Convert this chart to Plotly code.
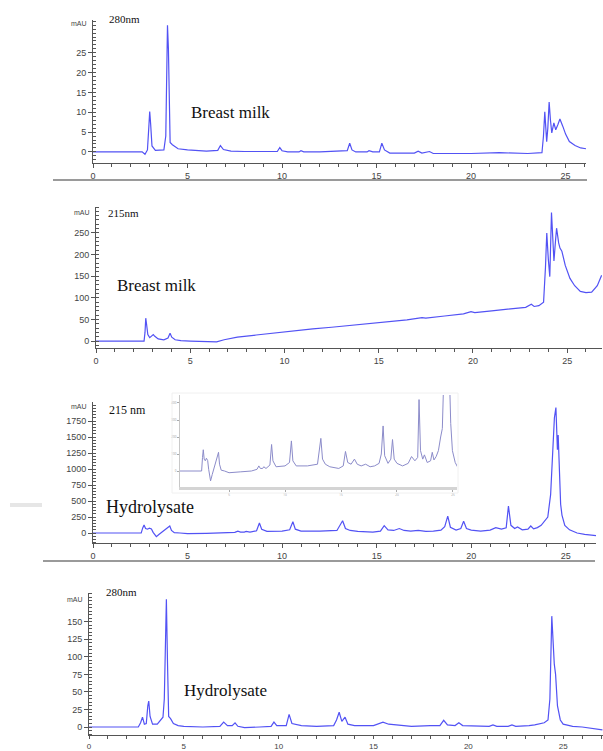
import plotly.graph_objects as go

# ---------------- data (retention time [min], absorbance [mAU]) ----------------
bm280 = [(0,0),(2.6,0),(2.75,-0.6),(2.88,0.5),(2.95,6),(3.0,10.2),(3.05,7),(3.12,1.5),(3.3,0.4),(3.75,0.5),
         (3.85,4),(3.94,32),(3.99,26),(4.04,6),(4.08,2.4),(4.2,1.8),(4.5,0.8),(5.0,0.5),(6.0,0.2),(6.6,0.4),
         (6.74,1.6),(6.9,0.6),(7.3,0.2),(8.0,0.1),(9.0,0),(9.75,0.1),(9.88,1.1),(10.0,0.3),(10.3,0),(10.9,0),
         (11.0,0.3),(11.15,0),(12.0,0),(13.0,0.3),(13.45,0.3),(13.58,2.2),(13.7,0.5),(13.9,0),(14.5,0),(14.6,0.3),
         (14.8,0),(15.15,0),(15.28,2.2),(15.42,0.5),(15.7,-0.3),(17.0,-0.3),(17.2,0.2),(17.4,-0.3),(17.8,0.1),
         (18.0,-0.4),(20.0,-0.4),(21.5,-0.2),(22.0,-0.3),(23.0,-0.4),(23.75,-0.2),(23.83,4),(23.9,10.1),(23.95,6),
         (24.0,2.6),(24.06,6),(24.13,12.6),(24.2,8),(24.27,4.8),(24.38,7.3),(24.48,5.6),(24.6,7),(24.7,8.3),
         (24.85,6.5),(25.0,4.5),(25.2,2.6),(25.5,1.6),(25.8,1.0),(26.08,0.8)]

bm215 = [(0,0),(2.55,0),(2.6,20),(2.64,53),(2.68,40),(2.75,15),(2.85,8),(2.95,13),(3.04,15),(3.12,11),(3.3,5),
         (3.6,3),(3.82,7),(3.93,18),(4.02,9),(4.2,3),(4.5,1),(5.0,0),(6.0,-1),(6.4,-2),(6.8,3),(7.5,9),(8.5,14),
         (9.5,19),(10.5,24),(11.5,28),(12.5,32),(13.5,36),(14.5,41),(15.5,45),(16.5,49),(17.3,54),(17.5,53),
         (18.5,58),(19.5,63),(19.9,68),(20.1,66),(21.0,70),(22.0,74),(22.8,78),(23.1,85),(23.25,80),(23.5,82),
         (23.75,90),(23.85,170),(23.92,250),(24.0,190),(24.08,149),(24.17,297),(24.23,250),(24.3,185),(24.38,230),
         (24.44,261),(24.55,227),(24.62,215),(24.72,208),(24.9,175),(25.15,145),(25.4,128),(25.7,115),(26.0,112),
         (26.3,113),(26.6,128),(26.83,152)]

hy215 = [(0,0),(2.55,0),(2.63,80),(2.7,125),(2.78,70),(2.88,60),(2.98,75),(3.09,62),(3.18,10),(3.35,-58),
         (3.5,-20),(3.7,30),(3.85,60),(3.95,90),(4.06,110),(4.15,40),(4.3,5),(4.6,0),(5.0,-10),(6.0,-5),(7.0,0),
         (7.5,10),(7.66,30),(7.8,15),(8.0,15),(8.1,25),(8.3,15),(8.65,35),(8.8,156),(8.92,60),(9.2,25),(10.0,30),
         (10.4,50),(10.57,177),(10.7,60),(11.0,30),(12.0,30),(12.9,40),(13.2,192),(13.35,70),(13.6,40),(14.0,25),
         (14.8,15),(15.2,30),(15.4,115),(15.6,50),(15.9,40),(16.2,70),(16.45,40),(16.8,30),(17.2,40),(17.6,25),
         (18.0,30),(18.4,45),(18.6,100),(18.76,265),(18.9,90),(19.2,45),(19.45,70),(19.6,185),(19.75,70),(20.0,45),
         (20.5,30),(21.0,45),(21.3,85),(21.6,60),(21.85,80),(21.97,420),(22.1,120),(22.3,70),(22.45,95),(22.7,50),
         (23.0,60),(23.15,110),(23.3,65),(23.5,85),(23.7,120),(23.9,200),(24.05,250),(24.2,600),(24.3,1300),
         (24.4,1800),(24.48,1960),(24.53,1600),(24.56,1300),(24.6,1530),(24.66,1000),(24.73,450),(24.8,280),
         (24.95,120),(25.2,50),(25.6,0),(26.0,-20),(26.6,-40)]

hy280 = [(0,0),(2.6,0),(2.72,6),(2.82,14),(2.92,4),(3.02,5),(3.1,30),(3.15,37),(3.22,15),(3.35,4),(3.6,4),
         (3.8,10),(3.9,14),(3.97,40),(4.03,150),(4.08,182),(4.14,90),(4.2,15),(4.3,12),(4.45,5),(4.7,2),(5.0,1),
         (6.0,0),(6.9,1),(7.1,7),(7.3,2),(7.55,2),(7.7,6),(7.85,1),(8.2,-1),(9.0,0),(9.6,1),(9.75,7),(9.9,2),
         (10.4,2),(10.55,18),(10.7,5),(11.2,2),(12.0,1),(12.9,2),(13.05,10),(13.19,21),(13.33,8),(13.5,14),
         (13.65,4),(14.0,2),(15.0,2),(15.5,7),(15.8,4),(16.15,3),(17.0,1),(18.0,2),(18.5,2),(18.7,9.5),(18.9,3),
         (19.3,2),(19.5,6),(19.7,2),(20.5,1),(21.1,1),(21.3,3),(21.5,1),(22.1,1),(22.3,3),(22.5,1),(23.0,1),
         (23.2,2),(23.5,3),(23.8,5),(24.0,6),(24.2,10),(24.3,40),(24.4,158),(24.47,110),(24.53,90),(24.6,75),
         (24.7,30),(24.85,10),(25.0,4),(25.5,1),(26.0,0),(27.07,-4)]

yticks_bm280 = [0, 5, 10, 15, 20, 25]
yticks_bm215 = [0, 50, 100, 150, 200, 250]
yticks_hy215 = [0, 250, 500, 750, 1000, 1250, 1500, 1750]
yticks_hy280 = [0, 25, 50, 75, 100, 125, 150]
yticks_inset = [0, 100, 200, 300, 400]
xticks = [0, 5, 10, 15, 20, 25]

W, H = 603, 751
def px(x): return x / W
def py(y): return 1 - y / H

LINE = "#5252f4"
AX = "#555555"
TICKFONT = dict(family="Liberation Sans, Arial", size=9, color="#444444")

fig = go.Figure()

def add(series, xa, ya, color=LINE, width=1.2):
    fig.add_trace(go.Scatter(x=[p[0] for p in series], y=[p[1] for p in series], mode="lines",
                             line=dict(color=color, width=width), xaxis=xa, yaxis=ya,
                             showlegend=False, hoverinfo="skip"))

add(bm280, "x", "y")
add(bm215, "x2", "y2")
add(hy215, "x3", "y3")
add(hy280, "x4", "y4")
add(hy215, "x5", "y5", color="#8c8cca", width=1.0)

def xaxis(dom, rng, anchor, font=TICKFONT, tl=4):
    return dict(domain=[px(dom[0]), px(dom[1])], range=rng, anchor=anchor, showline=True,
                linecolor=AX, linewidth=1, ticks="outside", ticklen=tl, tickcolor=AX,
                tickvals=xticks, tickfont=font, showgrid=False, zeroline=False, automargin=False,
                minor=dict(ticks="outside", ticklen=3, dtick=1, tickcolor=AX, showgrid=False))

def yaxis(dom, rng, anchor, tv, mdt):
    return dict(domain=[py(dom[1]), py(dom[0])], range=rng, anchor=anchor, showline=True,
                linecolor=AX, linewidth=1, ticks="outside", ticklen=4, tickcolor=AX,
                tickvals=tv, tickfont=TICKFONT, showgrid=False, zeroline=False, automargin=False,
                minor=dict(ticks="inside", ticklen=3, dtick=mdt, tickcolor=AX, showgrid=False))

layout = dict(
    width=W, height=H, margin=dict(l=0, r=0, t=0, b=0, pad=0),
    paper_bgcolor="white", plot_bgcolor="white", showlegend=False,
    xaxis=xaxis((93, 586), [0, 26.08], "y"),
    yaxis=yaxis((20, 163), [-2.8, 33.3], "x", yticks_bm280, 1),
    xaxis2=xaxis((96, 602), [0, 26.85], "y2"),
    yaxis2=yaxis((207, 348), [-16, 310], "x2", yticks_bm215, 10),
    xaxis3=xaxis((93, 596), [0, 26.6], "y3"),
    yaxis3=yaxis((402, 543), [-156, 2047], "x3", yticks_hy215, 50),
    xaxis4=xaxis((89, 603), [0, 27.1], "y4", font=dict(TICKFONT, size=8), tl=3),
    yaxis4=yaxis((593, 735), [-11.4, 191], "x4", yticks_hy280, 5),
    xaxis5=dict(domain=[px(180), px(457)], range=[0.62, 25.36], anchor="y5", showline=True,
                linecolor="#d4d4d4", linewidth=3, ticks="outside", ticklen=2, tickcolor="#aaaaaa",
                tickvals=[5, 10, 15, 20, 25], tickfont=dict(size=3, color="#999999"),
                showgrid=False, zeroline=False, automargin=False),
    yaxis5=dict(domain=[py(487), py(395)], range=[-94, 447], anchor="x5", showline=True,
                linecolor="#c8c8c8", linewidth=1, ticks="outside", ticklen=2, tickcolor="#aaaaaa",
                tickvals=yticks_inset, tickfont=dict(size=3, color="#999999"),
                showgrid=False, zeroline=False, automargin=False),
)
fig.update_layout(**layout)

# decorative separator lines and inset frame
shapes = [
    dict(type="line", xref="paper", yref="paper", x0=px(53), x1=px(587), y0=py(180), y1=py(180),
         line=dict(color="#9a9a9a", width=2)),
    dict(type="line", xref="paper", yref="paper", x0=px(43), x1=px(595), y0=py(561), y1=py(561),
         line=dict(color="#9a9a9a", width=2)),
    dict(type="rect", xref="paper", yref="paper", x0=px(10), x1=px(42), y0=py(507), y1=py(503),
         line=dict(width=0), fillcolor="#e6e6e6"),
    dict(type="rect", xref="paper", yref="paper", x0=px(172), x1=px(458), y0=py(493), y1=py(393),
         line=dict(color="#f0f0f0", width=1)),
]
fig.update_layout(shapes=shapes)

SERIF = "Liberation Serif, Times New Roman"
def note(text, x, y, size, family=SERIF, anchor="left", color="#111111"):
    fig.add_annotation(text=text, x=px(x), y=py(y), xref="paper", yref="paper", showarrow=False,
                       xanchor=anchor, yanchor="middle", font=dict(family=family, size=size, color=color))

note("280nm", 107, 19, 11)
note("Breast milk", 189, 112, 17)
note("215nm", 106, 213, 11)
note("Breast milk", 115, 286, 17)
note("215 nm", 107, 410, 12)
note("Hydrolysate", 104, 507, 18)
note("280nm", 104, 592, 11)
note("Hydrolysate", 182, 690, 17)
for yy, xx in [(23, 89), (212, 92), (406, 89), (599, 85)]:
    note("mAU", xx, yy, 7, family="Liberation Sans, Arial", anchor="right", color="#444444")

fig.write_html("out.html", config={"displayModeBar": False},
               post_script="document.body.style.margin='0px';document.body.style.overflow='hidden';")
